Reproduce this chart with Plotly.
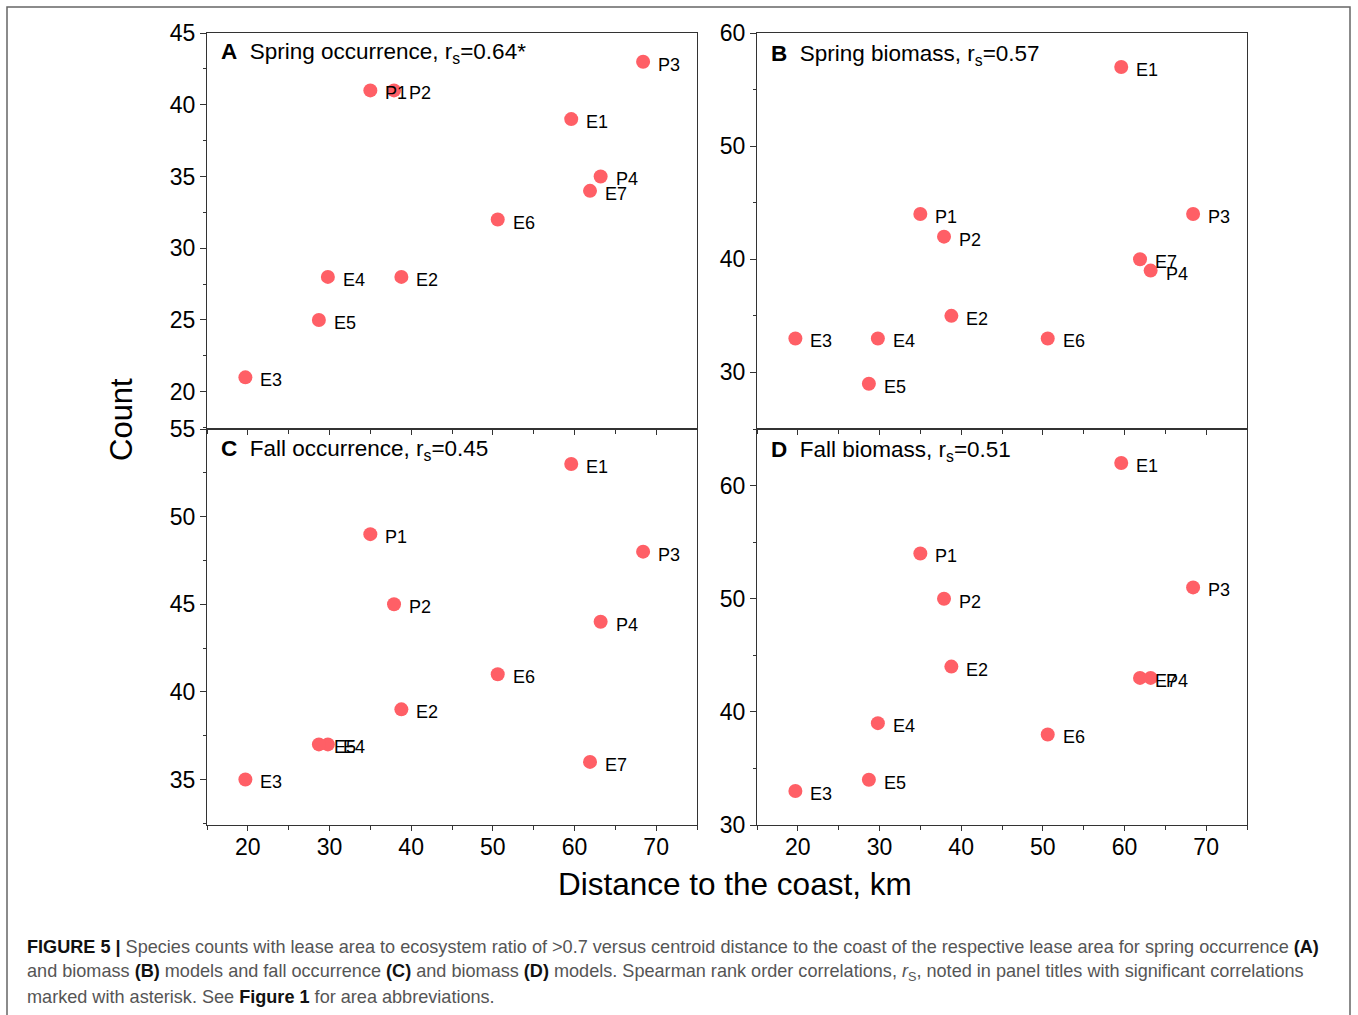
import plotly.graph_objects as go

# ---------------- data ----------------
sites = ['E1', 'E2', 'E3', 'E4', 'E5', 'E6', 'E7', 'P1', 'P2', 'P3', 'P4']
distance_km = [59.6, 38.8, 19.7, 29.8, 28.7, 50.6, 61.9, 35.0, 37.9, 68.4, 63.2]
spring_occurrence = [39, 28, 21, 28, 25, 32, 34, 41, 41, 43, 35]
spring_biomass = [57, 35, 33, 33, 29, 33, 40, 44, 42, 44, 39]
fall_occurrence = [53, 39, 35, 37, 37, 41, 36, 49, 45, 48, 44]
fall_biomass = [62, 44, 33, 39, 34, 38, 43, 54, 50, 51, 43]

panel_letters = ['A', 'B', 'C', 'D']
panel_names = ['Spring occurrence', 'Spring biomass', 'Fall occurrence', 'Fall biomass']
panel_rs = ['0.64*', '0.57', '0.45', '0.51']
panel_series = [spring_occurrence, spring_biomass, fall_occurrence, fall_biomass]
x_ticks = [20, 30, 40, 50, 60, 70]

# ---------------- layout geometry ----------------
W, H = 1358, 1015
def px(x):
    return x / W
def py(y):
    return 1 - y / H

x_left = [px(207), px(697)]
x_right = [px(757), px(1247)]
y_top = [py(429), py(33)]
y_bot = [py(825), py(429)]

MARK = '#ff5f66'
AX = '#333333'
FONT = 'Liberation Sans, Arial, Helvetica, sans-serif'

fig = go.Figure()
annotations = []

axis_ids = ['', '2', '3', '4']
for i in range(4):
    xa, ya = 'x' + axis_ids[i], 'y' + axis_ids[i]
    fig.add_trace(go.Scatter(
        x=distance_km, y=panel_series[i], text=sites,
        mode='markers', hoverinfo='text+x+y',
        marker=dict(size=14, color=MARK, line=dict(width=0)),
        xaxis=xa, yaxis=ya, showlegend=False, cliponaxis=False,
    ))
    for s, xv, yv in zip(sites, distance_km, panel_series[i]):
        annotations.append(dict(
            x=xv, y=yv, xref=xa, yref=ya, text=s, showarrow=False,
            xanchor='left', yanchor='middle', xshift=13, yshift=-3,
            font=dict(family=FONT, size=18, color='black')))

def xaxis(domain, anchor, labels):
    return dict(domain=domain, anchor=anchor, range=[15, 75], automargin=False,
                tickvals=x_ticks, showticklabels=labels, ticklabelstandoff=-4,
                ticks='outside', ticklen=5, tickwidth=1.2, tickcolor=AX,
                minor=dict(tickvals=[15, 25, 35, 45, 55, 65, 75], ticks='outside',
                           ticklen=4, tickwidth=1.2, tickcolor=AX),
                showline=True, linecolor=AX, linewidth=1.2, mirror=True,
                showgrid=False, zeroline=False,
                tickfont=dict(family=FONT, size=23, color='black'))

def yaxis(domain, anchor, rng, dtick):
    return dict(domain=domain, anchor=anchor, range=rng, dtick=dtick, automargin=False,
                ticks='outside', ticklen=6, tickwidth=1.2, tickcolor=AX,
                minor=dict(dtick=dtick / 2, ticks='outside', ticklen=3,
                           tickwidth=1.2, tickcolor=AX),
                showline=True, linecolor=AX, linewidth=1.2, mirror=True,
                showgrid=False, zeroline=False,
                tickfont=dict(family=FONT, size=23, color='black'))

fig.update_layout(
    width=W, height=H, margin=dict(l=0, r=0, t=0, b=0, autoexpand=False),
    paper_bgcolor='white', plot_bgcolor='white',
    font=dict(family=FONT, color='black'),
    xaxis=xaxis(x_left, 'y', False),
    yaxis=yaxis(y_top, 'x', [17.4, 45], 5),
    xaxis2=xaxis(x_right, 'y2', False),
    yaxis2=yaxis(y_top, 'x2', [25, 60], 10),
    xaxis3=xaxis(x_left, 'y3', True),
    yaxis3=yaxis(y_bot, 'x3', [32.4, 55], 5),
    xaxis4=xaxis(x_right, 'y4', True),
    yaxis4=yaxis(y_bot, 'x4', [30, 65], 10),
)

# panel titles
title_pos = [(219, 53), (769, 55), (219, 450), (769, 451)]
for i in range(4):
    tx, ty = title_pos[i]
    annotations.append(dict(
        x=px(tx), y=py(ty), xref='paper', yref='paper',
        xanchor='left', yanchor='middle', showarrow=False,
        text=f'<b>{panel_letters[i]}</b>  {panel_names[i]}, r<sub>s</sub>={panel_rs[i]}',
        font=dict(family=FONT, size=22.5, color='black')))

# axis titles
annotations.append(dict(x=px(122), y=py(420), xref='paper', yref='paper',
                        text='Count', textangle=-90, showarrow=False,
                        xanchor='center', yanchor='middle',
                        font=dict(family=FONT, size=31, color='black')))
annotations.append(dict(x=px(735), y=py(884), xref='paper', yref='paper',
                        text='Distance to the coast, km', showarrow=False,
                        xanchor='center', yanchor='middle',
                        font=dict(family=FONT, size=31.5, color='black')))

# caption
CAP = 'Liberation Sans, Arial, sans-serif'
B = '<span style="color:#111"><b>{}</b></span>'
caption_lines = [
    B.format('FIGURE 5 |') + ' Species counts with lease area to ecosystem ratio of &gt;0.7 versus centroid distance to the coast of the respective lease area for spring occurrence ' + B.format('(A)'),
    'and biomass ' + B.format('(B)') + ' models and fall occurrence ' + B.format('(C)') + ' and biomass ' + B.format('(D)') + ' models. Spearman rank order correlations, <i>r</i><sub>S</sub>, noted in panel titles with significant correlations',
    'marked with asterisk. See ' + B.format('Figure 1') + ' for area abbreviations.',
]
for k, line in enumerate(caption_lines):
    annotations.append(dict(x=px(25), y=py(947 + 25 * k), xref='paper', yref='paper',
                            text=line, showarrow=False, xanchor='left', yanchor='middle',
                            font=dict(family=CAP, size=18.1, color='#555555')))

fig.update_layout(annotations=annotations)

# outer frame
fig.add_shape(type='rect', xref='paper', yref='paper',
              x0=px(7), x1=px(1350), y0=py(1030), y1=py(7),
              line=dict(color='#666666', width=1.5), fillcolor='rgba(0,0,0,0)')

fig.write_html('out.html')
